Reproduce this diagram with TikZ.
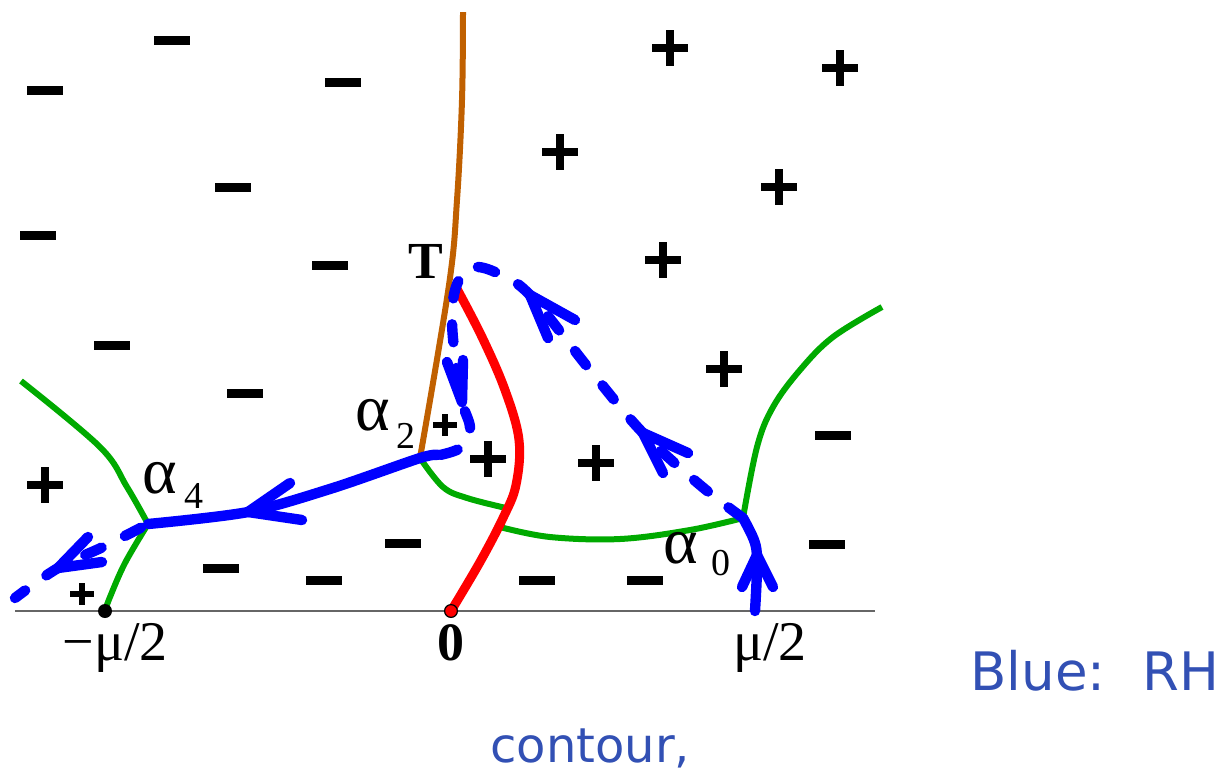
\documentclass[tikz,border=0pt]{standalone}
\usepackage{fontspec}
\setmainfont{Liberation Serif}
\newfontfamily\notefont{DejaVu Sans}
\definecolor{cblue}{RGB}{0,0,255}
\definecolor{cgreen}{RGB}{0,170,0}
\definecolor{cred}{RGB}{255,0,0}
\definecolor{cbrown}{RGB}{192,96,0}
\definecolor{ctext}{RGB}{50,80,180}
\tikzset{
  axisline/.style={draw=black!60, line width=0.7pt},
  greenline/.style={draw=cgreen, line width=3pt, line join=round},
  redline/.style={draw=cred, line width=4.5pt, line cap=round},
  brownline/.style={draw=cbrown, line width=3pt},
  bluesolid/.style={draw=cblue, line width=5.2pt, line cap=round, line join=round},
  bluedash/.style={draw=cblue, line width=5.2pt, line cap=round, dash pattern=on 9pt off 13pt},
  chevron/.style={draw=cblue, line width=5.2pt, line cap=round, line join=round},
  minussign/.style={draw=black, line width=4.5pt},
  plussign/.style={draw=black, line width=4pt},
  smallplus/.style={draw=black, line width=3pt},
  axislabel/.style={font=\fontsize{28}{32}\selectfont, inner sep=0pt, anchor=base},
  alphalabel/.style={font=\fontsize{33}{36}\selectfont, inner sep=0pt, anchor=base west},
  sublabel/.style={font=\fontsize{19}{22}\selectfont, inner sep=0pt, anchor=base west},
  notelabel/.style={font=\notefont\fontsize{24}{28}\selectfont, text=ctext, inner sep=0pt}
}
\begin{document}
\begin{tikzpicture}[x=0.5pt,y=-0.5pt]
\useasboundingbox (0,0) rectangle (1228,773);
% key points
\coordinate (mleft) at (105,611);
\coordinate (zero) at (451,611);
\coordinate (mright) at (755,611);
\coordinate (a0) at (743,518);
\coordinate (a2) at (420,458);
\coordinate (a4) at (148,524);
\coordinate (T) at (456,287);
\coordinate (brtop) at (463,12);
\coordinate (gltop) at (21,381);
\coordinate (grtop) at (882,307);
\coordinate (redA) at (506,508);
\coordinate (redB) at (500,527);
\coordinate (bleft) at (15,598);
\coordinate (axL) at (15,611);
\coordinate (axR) at (875,611);

% axis
\draw[axisline] (axL) -- (axR);

% sign markers
\foreach \x/\y in {45/90,172/40,343/82,233/187,38/235,330/265,112/345,245/393,
  833/435,827/544,403/543,221/568,324/580,537/580,645/580}
  \draw[minussign] (\x-18,\y) -- (\x+18,\y);
\foreach \x/\y in {670/48,840/68,560/152,779/187,663/260,724/369,45/485,488/459,596/463}
  {\draw[plussign] (\x-18,\y) -- (\x+18,\y);
   \draw[plussign] (\x,\y-18) -- (\x,\y+18);}
\foreach \x/\y in {445/425,82/594}
  {\draw[smallplus] (\x-12,\y) -- (\x+12,\y);
   \draw[smallplus] (\x,\y-11) -- (\x,\y+11);}

% brown curve
\draw[brownline] plot[smooth, tension=0.6] coordinates {(brtop) (462,100) (457,200) (449,285) (a2)};

% green curves
\draw[greenline] plot[smooth, tension=0.6] coordinates {(gltop) (100,447) (127,487) (a4)};
\draw[greenline] plot[smooth, tension=0.6] coordinates {(a4) (125,563) (110,597) (mleft)};
\draw[greenline] plot[smooth, tension=0.6] coordinates {(a2) (443,487) (467,498) (redA)};
\draw[greenline] plot[smooth, tension=0.6] coordinates {(redB) (550,537) (620,539) (690,530) (a0)};
\draw[greenline] plot[smooth, tension=0.6] coordinates {(a0) (757,447) (773,407) (800,370) (833,337) (grtop)};

% red curve
\draw[redline] plot[smooth, tension=0.6] coordinates {(T) (482,337) (505,390) (519,440) (516,485) (503,518) (480,562) (zero)};

% blue solid parts
\draw[bluesolid] plot[smooth, tension=0.5] coordinates {(438,455) (a2) (333,488) (248,512) (a4)};
\draw[bluesolid] plot[smooth, tension=0.6] coordinates {(mright) (757,567) (755,543) (a0)};

% blue dashed parts
\draw[bluedash] plot[smooth, tension=0.6] coordinates {(a0) (700,485) (643,433) (590,370) (530,295) (495,272) (470,268) (T) (452,320) (456,365) (462,402) (470,428) (462,447) (440,455)};
\draw[bluedash, dash phase=-4pt] plot[smooth, tension=0.6] coordinates {(a4) (105,546) (58,568) (bleft)};

% arrow chevrons
\draw[chevron] (290,483) -- (248,512) -- (302,520);
\draw[chevron] (742,587) -- (757,555) -- (773,587);
\draw[chevron] (688,453) -- (643,433) -- (663,473);
\draw[chevron] (575,320) -- (530,295) -- (548,338);
\draw[chevron] (447,362) -- (462,402) -- (463,360);
\draw[chevron] (88,537) -- (58,568) -- (102,562);

% dots on axis
\fill[black] (mleft) circle (3.5pt);
\filldraw[fill=cred, draw=black, line width=0.6pt] (zero) circle (3.2pt);

% labels
\node[axislabel] (lmleft) at (115,660) {−μ/2};
\node[axislabel, font=\fontsize{27}{30}\selectfont\bfseries] (lzero) at (451,660) {0};
\node[axislabel] (lmright) at (770,660) {μ/2};
\node[axislabel, anchor=base west, font=\fontsize{26}{30}\selectfont\bfseries] (lT) at (408,278) {T};
\node[alphalabel] (la2) at (355,430) {α};
\node[sublabel] (la2s) at (396,448) {2};
\node[alphalabel] (la4) at (142,493) {α};
\node[sublabel] (la4s) at (184,508) {4};
\node[alphalabel] (la0) at (663,563) {α};
\node[sublabel] (la0s) at (711,575) {0};
\node[notelabel, anchor=base west, font=\notefont\fontsize{26.5}{30}\selectfont] (note1) at (970,690) {Blue:\hspace{0.7em}RH};
\node[notelabel, anchor=base west] (note2) at (490,762) {contour,};
\end{tikzpicture}
\end{document}
